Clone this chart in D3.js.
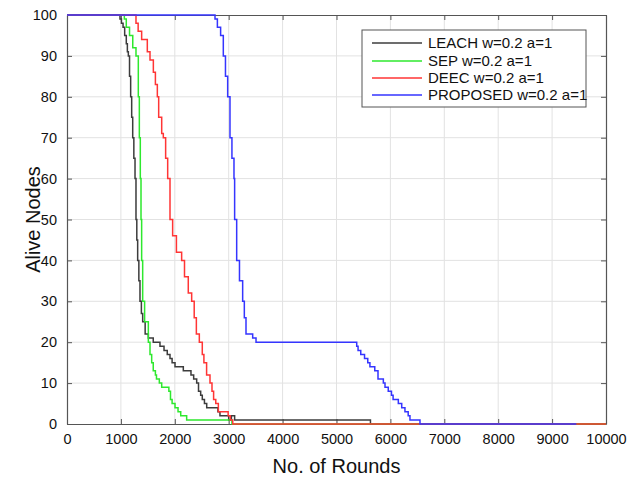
<!DOCTYPE html>
<html>
<head>
<meta charset="utf-8">
<script src="https://cdn.jsdelivr.net/npm/d3@7"></script>
<style>
  body { margin: 0; background: #fff; }
  text { font-family: "Liberation Sans", Arial, sans-serif; }
</style>
</head>
<body>
<div id="chart"></div>
<script>
// Alive nodes per round (step curves)
const leachRounds = [0, 983, 1010, 1040, 1070, 1100, 1120, 1138, 1160, 1181, 1200, 1219, 1240, 1262, 1280, 1295, 1311, 1333, 1354, 1380, 1404, 1450, 1509, 1600, 1725, 1800, 1860, 1911, 1950, 2004, 2158, 2300, 2350, 2406, 2440, 2480, 2510, 2550, 2592, 2800, 2838, 3000, 3050, 3110, 5630, 10000];
const leachAlive  = [100, 99, 98, 97, 95, 93, 91, 90, 85, 80, 75, 70, 65, 60, 50, 45, 40, 35, 30, 27, 25, 22, 21, 20, 19, 18, 17, 16, 15, 14, 13, 12, 11, 10, 8, 7, 6, 5, 4, 3, 2, 1, 2, 1, 0, 0];

const sepRounds = [0, 1064, 1100, 1160, 1220, 1280, 1323, 1342, 1360, 1373, 1385, 1404, 1440, 1509, 1540, 1571, 1600, 1640, 1660, 1713, 1757, 1890, 1920, 1950, 2004, 2060, 2110, 2220, 3060, 10000];
const sepAlive  = [100, 99, 97, 95, 92, 90, 80, 70, 60, 50, 40, 30, 25, 20, 17, 15, 13, 12, 11, 10, 9, 8, 6, 5, 4, 3, 2, 1, 0, 0];

const deecRounds = [0, 1280, 1320, 1385, 1490, 1540, 1602, 1640, 1676, 1701, 1757, 1787, 1830, 1868, 1911, 1960, 2030, 2127, 2180, 2250, 2313, 2360, 2400, 2455, 2510, 2540, 2590, 2653, 2690, 2720, 2760, 2808, 2990, 3030, 3075, 10000];
const deecAlive  = [100, 98, 96, 94, 91, 89, 86, 83, 80, 75, 71, 70, 65, 60, 50, 46, 42, 40, 36, 32, 30, 26, 22, 20, 17, 15, 12, 10, 8, 6, 5, 3, 2, 1, 0, 0];

const propRounds = [0, 2746, 2790, 2850, 2900, 2940, 2981, 3024, 3060, 3098, 3110, 3148, 3200, 3259, 3290, 3321, 3445, 3507, 5375, 5400, 5450, 5520, 5580, 5620, 5710, 5770, 5869, 5900, 5960, 6020, 6050, 6147, 6210, 6270, 6330, 6363, 6549, 9450];
const propAlive  = [100, 99, 97, 95, 90, 85, 80, 70, 65, 60, 50, 40, 35, 30, 26, 22, 21, 20, 19, 18, 17, 16, 15, 14, 13, 11, 10, 9, 8, 7, 6, 5, 4, 3, 2, 1, 0, 0];

const seriesNames = ["LEACH w=0.2 a=1", "SEP w=0.2 a=1", "DEEC w=0.2 a=1", "PROPOSED w=0.2 a=1"];
const seriesColors = ["#3c3c3c", "#2ee82e", "#ff3535", "#3535ff"];
const xTicks = [0, 1000, 2000, 3000, 4000, 5000, 6000, 7000, 8000, 9000, 10000];
const yTicks = [0, 10, 20, 30, 40, 50, 60, 70, 80, 90, 100];

const series = [
    { name: seriesNames[0], color: seriesColors[0], x: leachRounds, y: leachAlive },
    { name: seriesNames[1], color: seriesColors[1], x: sepRounds, y: sepAlive },
    { name: seriesNames[2], color: seriesColors[2], x: deecRounds, y: deecAlive },
    { name: seriesNames[3], color: seriesColors[3], x: propRounds, y: propAlive }
];

const width = 630, height = 479;
const margin = { top: 15, right: 24, bottom: 55, left: 67 };
const w = width - margin.left - margin.right;
const h = height - margin.top - margin.bottom;

const svg = d3.select("#chart").append("svg")
    .attr("width", width)
    .attr("height", height);

const g = svg.append("g").attr("transform", `translate(${margin.left},${margin.top})`);

const x = d3.scaleLinear().domain([0, 10000]).range([0, w]);
const y = d3.scaleLinear().domain([0, 100]).range([h, 0]);

// Grid
g.append("g").selectAll("line")
    .data(xTicks.slice(1, -1))
    .enter().append("line")
    .attr("x1", d => x(d)).attr("x2", d => x(d))
    .attr("y1", 0).attr("y2", h)
    .attr("stroke", "#e2e2e2").attr("stroke-width", 1);

g.append("g").selectAll("line")
    .data(yTicks.slice(1, -1))
    .enter().append("line")
    .attr("x1", 0).attr("x2", w)
    .attr("y1", d => y(d)).attr("y2", d => y(d))
    .attr("stroke", "#e2e2e2").attr("stroke-width", 1);

// Axes (ticks inward, box all round)
const axisColor = "#555";
const bottomAxis = g.append("g").attr("transform", `translate(0,${h})`)
    .call(d3.axisBottom(x).tickValues(xTicks).tickSizeInner(-5).tickSizeOuter(0).tickPadding(10).tickFormat(d3.format("d")));
const leftAxis = g.append("g")
    .call(d3.axisLeft(y).tickValues(yTicks).tickSizeInner(-5).tickSizeOuter(0).tickPadding(10));
const topAxis = g.append("g")
    .call(d3.axisTop(x).tickValues(xTicks).tickSizeInner(-5).tickSizeOuter(0).tickFormat(""));
const rightAxis = g.append("g").attr("transform", `translate(${w},0)`)
    .call(d3.axisRight(y).tickValues(yTicks).tickSizeInner(-5).tickSizeOuter(0).tickFormat(""));

[bottomAxis, leftAxis, topAxis, rightAxis].forEach(a => {
    a.select(".domain").attr("stroke", axisColor).attr("stroke-width", 1.2);
    a.selectAll(".tick line").attr("stroke", axisColor);
    a.selectAll(".tick text")
        .attr("fill", "#111")
        .style("font-size", "14.5px")
        .style("font-family", "'Liberation Sans', Arial, sans-serif");
});

// Lines
const line = d3.line()
    .x(d => x(d[0]))
    .y(d => y(d[1]))
    .curve(d3.curveStepAfter);

series.forEach(s => {
    const pts = s.x.map((r, i) => [r, s.y[i]]);
    g.append("path")
        .datum(pts)
        .attr("fill", "none")
        .attr("stroke", s.color)
        .attr("stroke-width", 1.5)
        .attr("d", line);
});

// Axis titles
svg.append("text")
    .attr("x", margin.left + w / 2)
    .attr("y", 473)
    .attr("text-anchor", "middle")
    .style("font-size", "20px")
    .attr("fill", "#111")
    .text("No. of Rounds");

svg.append("text")
    .attr("transform", `translate(40,${margin.top + h / 2}) rotate(-90)`)
    .attr("text-anchor", "middle")
    .style("font-size", "20px")
    .attr("fill", "#111")
    .text("Alive Nodes");

// Legend
const legend = svg.append("g").attr("transform", "translate(362,30)");
legend.append("rect")
    .attr("width", 224).attr("height", 77)
    .attr("fill", "#fff")
    .attr("stroke", axisColor).attr("stroke-width", 1);

const rowY = [13, 31, 48, 65];
series.forEach((s, i) => {
    legend.append("line")
        .attr("x1", 10).attr("x2", 60)
        .attr("y1", rowY[i]).attr("y2", rowY[i])
        .attr("stroke", s.color).attr("stroke-width", 1.5);
    legend.append("text")
        .attr("x", 66).attr("y", rowY[i] + 5)
        .style("font-size", "15px")
        .attr("fill", "#111")
        .text(s.name);
});
</script>
</body>
</html>
